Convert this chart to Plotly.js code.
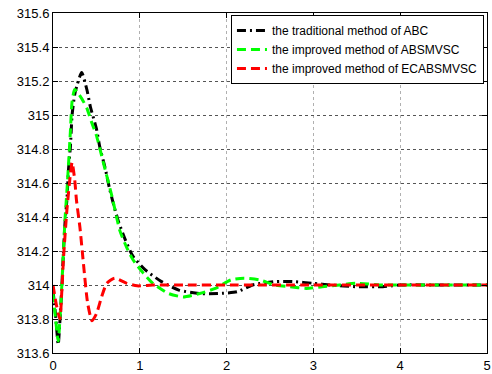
<!DOCTYPE html>
<html>
<head>
<meta charset="utf-8">
<script src="https://cdn.plot.ly/plotly-3.0.1.min.js"></script>
<style>html,body{margin:0;padding:0;background:#fff;}#chart{width:492px;height:374px;}</style>
</head>
<body>
<div id="chart"></div>
<script>
const seriesNames = ["the traditional method of ABC", "the improved method of ABSMVSC", "the improved method of ECABSMVSC"];

const tABC = [0, 0.03, 0.06, 0.08, 0.1, 0.12, 0.14, 0.16, 0.18, 0.2, 0.22, 0.25, 0.28, 0.33, 0.39, 0.43, 0.5, 0.54, 0.6, 0.65, 0.7, 0.75, 0.83, 0.92, 1.06, 1.25, 1.45, 1.69, 1.9, 2.12, 2.3, 2.56, 2.76, 3.0, 3.2, 3.5, 3.8, 4.0, 4.5, 5.0];
const vABC = [313.97, 313.82, 313.65, 313.79, 313.97, 314.19, 314.38, 314.5, 314.69, 314.81, 315.0, 315.12, 315.18, 315.25, 315.15, 315.05, 314.92, 314.81, 314.69, 314.57, 314.47, 314.38, 314.27, 314.17, 314.09, 314.02, 313.97, 313.95, 313.95, 313.96, 314.0, 314.02, 314.02, 314.01, 314.0, 313.99, 313.99, 314.0, 314.0, 314.0];

const tABS = [0, 0.03, 0.06, 0.08, 0.1, 0.12, 0.14, 0.16, 0.18, 0.2, 0.22, 0.25, 0.3, 0.35, 0.39, 0.45, 0.5, 0.58, 0.68, 0.77, 0.85, 0.92, 1.04, 1.15, 1.33, 1.5, 1.69, 1.87, 2.05, 2.2, 2.38, 2.55, 2.73, 2.92, 3.1, 3.3, 3.5, 3.8, 4.2, 5.0];
const vABS = [313.95, 313.8, 313.67, 313.8, 313.98, 314.2, 314.4, 314.55, 314.72, 314.9, 315.08, 315.15, 315.12, 315.08, 315.04, 314.95, 314.88, 314.72, 314.52, 314.32, 314.22, 314.15, 314.07, 314.01, 313.95, 313.93, 313.95, 313.98, 314.03, 314.04, 314.03, 314.0, 313.99, 313.98, 313.99, 314.0, 314.01, 314.0, 314.0, 314.0];

const tECA = [0, 0.04, 0.08, 0.1, 0.12, 0.16, 0.2, 0.22, 0.25, 0.27, 0.31, 0.35, 0.4, 0.45, 0.5, 0.56, 0.62, 0.71, 0.85, 0.97, 1.15, 1.5, 2.0, 3.0, 4.0, 5.0];
const vECA = [314.0, 313.88, 313.8, 313.95, 314.15, 314.44, 314.65, 314.72, 314.62, 314.5, 314.34, 314.13, 313.89, 313.79, 313.83, 313.93, 314.01, 314.04, 314.01, 313.995, 314.0, 314.0, 314.0, 314.0, 314.0, 314.0];

const xTicks = [0, 1, 2, 3, 4, 5];
const yTicks = [313.6, 313.8, 314, 314.2, 314.4, 314.6, 314.8, 315, 315.2, 315.4, 315.6];
const yTickText = ["313.6", "313.8", "314", "314.2", "314.4", "314.6", "314.8", "315", "315.2", "315.4", "315.6"];

const traces = [
  {x: tABC, y: vABC, name: seriesNames[0], mode: "lines", line: {color: "#000000", width: 3, dash: "9px,4px,2px,4px", shape: "spline", smoothing: 0.6}},
  {x: tABS, y: vABS, name: seriesNames[1], mode: "lines", line: {color: "#00ff00", width: 3, dash: "9px,5px", shape: "spline", smoothing: 0.6}},
  {x: tECA, y: vECA, name: seriesNames[2], mode: "lines", line: {color: "#ff0000", width: 3, dash: "9px,5px", shape: "spline", smoothing: 0.6}}
];

const font = {family: "Liberation Sans, Arial, sans-serif", size: 13, color: "#000"};

const layout = {
  width: 492, height: 374,
  margin: {l: 53, r: 5, t: 13, b: 21, pad: 0},
  paper_bgcolor: "#fff", plot_bgcolor: "#fff",
  font: font,
  showlegend: true,
  xaxis: {
    range: [0, 5], tickvals: xTicks, ticktext: xTicks.map(String),
    showgrid: true, gridcolor: "#b0b0b0", griddash: "dot", gridwidth: 1,
    zeroline: false, showline: true, linecolor: "#000", linewidth: 1, mirror: "ticks",
    ticks: "inside", ticklen: 5, tickcolor: "#000", tickfont: font, fixedrange: true
  },
  yaxis: {
    range: [313.6, 315.6], tickvals: yTicks, ticktext: yTickText,
    showgrid: true, gridcolor: "#555", griddash: "dot", gridwidth: 1,
    zeroline: false, showline: true, linecolor: "#000", linewidth: 1, mirror: "ticks",
    ticks: "inside", ticklen: 5, tickcolor: "#000", tickfont: font, fixedrange: true
  },
  legend: {
    x: 0.993, xanchor: "right", y: 0.994, yanchor: "top",
    bgcolor: "#fff", bordercolor: "#000", borderwidth: 1,
    font: {family: "Liberation Sans, Arial, sans-serif", size: 12, color: "#000"},
    tracegroupgap: 0, itemwidth: 30
  }
};

Plotly.newPlot("chart", traces, layout, {displayModeBar: false, staticPlot: true});
</script>
</body>
</html>
